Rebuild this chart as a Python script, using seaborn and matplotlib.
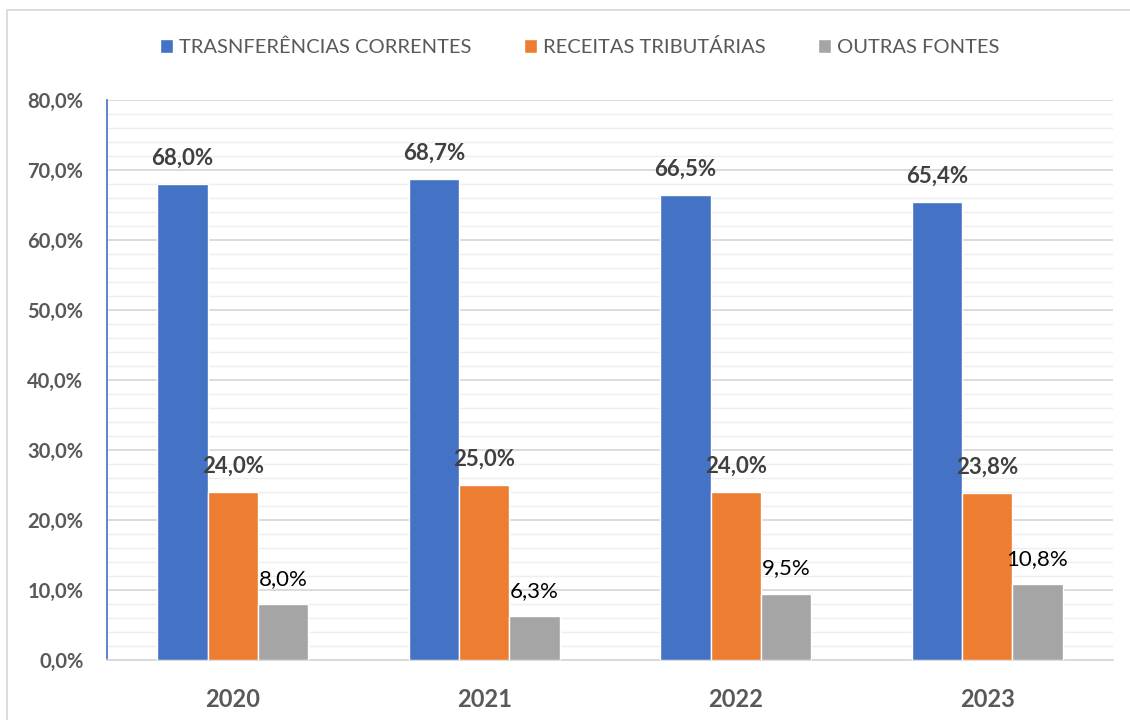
import numpy as np
import pandas as pd
import matplotlib.pyplot as plt
from matplotlib.ticker import MultipleLocator, FuncFormatter
from matplotlib.patches import Rectangle
import seaborn as sns

# ── Data ─────────────────────────────────────────────────────────────────────
years = ['2020', '2021', '2022', '2023']
series = ['TRASNFERÊNCIAS CORRENTES', 'RECEITAS TRIBUTÁRIAS', 'OUTRAS FONTES']
transferencias = [68.0, 68.7, 66.5, 65.4]
receitas = [24.0, 25.0, 24.0, 23.8]
outras = [8.0, 6.3, 9.5, 10.8]
colors = ['#4472c4', '#ed7d31', '#a5a5a5']

df = pd.DataFrame({
    'ano': years * 3,
    'fonte': [series[0]] * 4 + [series[1]] * 4 + [series[2]] * 4,
    'valor': transferencias + receitas + outras,
})

sns.set_theme(style='white')
plt.rcParams['font.family'] = ['Lato', 'DejaVu Sans']

fig = plt.figure(figsize=(11.3, 7.2), dpi=100)
ax = fig.add_axes([107 / 1130, 60 / 720, (1113 - 107) / 1130, 560 / 720])

sns.barplot(data=df, x='ano', y='valor', hue='fonte', palette=colors,
            width=0.6, saturation=1, ax=ax, legend=True, zorder=3)

ax.set_ylim(0, 80)
ax.yaxis.set_major_locator(MultipleLocator(10))
ax.yaxis.set_minor_locator(MultipleLocator(2))
ax.yaxis.set_major_formatter(FuncFormatter(lambda v, p: f'{v:.1f}%'.replace('.', ',')))
ax.grid(True, which='major', axis='y', color='#d9d9d9', linewidth=1.3, zorder=0)
ax.grid(True, which='minor', axis='y', color='#eeeeee', linewidth=1.0, zorder=0)
ax.set_axisbelow(True)
ax.set_xlabel('')
ax.set_ylabel('')
ax.tick_params(axis='both', which='both', length=0)
ax.tick_params(axis='y', labelsize=14.5, labelcolor='#595959', pad=17)
ax.tick_params(axis='x', labelsize=17, labelcolor='#595959', pad=20)
for lab in ax.get_yticklabels() + ax.get_xticklabels():
    lab.set_fontweight('bold')

for s in ['top', 'right']:
    ax.spines[s].set_visible(False)
ax.spines['left'].set_color('#4472c4')
ax.spines['left'].set_linewidth(1.2)
ax.spines['bottom'].set_color('#d9d9d9')
ax.spines['bottom'].set_linewidth(1.3)

# Data labels
for i, cont in enumerate(ax.containers):
    labels = [f'{v:.1f}%'.replace('.', ',') for v in cont.datavalues]
    if i < 2:
        ax.bar_label(cont, labels=labels, padding=11, fontsize=16,
                     fontweight='bold', color='#404040')
    else:
        ax.bar_label(cont, labels=labels, padding=11, fontsize=16,
                     color='#000000')

# Legend
handles, lbls = ax.get_legend_handles_labels()
ax.legend(handles, lbls, loc='center', bbox_to_anchor=(580 / 1130, 1 - 47 / 720),
          bbox_transform=fig.transFigure, ncol=3, frameon=False,
          fontsize=14.5, labelcolor='#595959', handlelength=0.65, handleheight=0.65,
          handletextpad=0.3, columnspacing=2.6)

# Outer chart border
fig.patches.append(Rectangle((7 / 1130, -0.02), 1.1, 1 - 10 / 720 + 0.02,
                             transform=fig.transFigure, fill=False,
                             edgecolor='#d9d9d9', linewidth=1.3))

plt.savefig('out.png', dpi=100)
plt.close()
